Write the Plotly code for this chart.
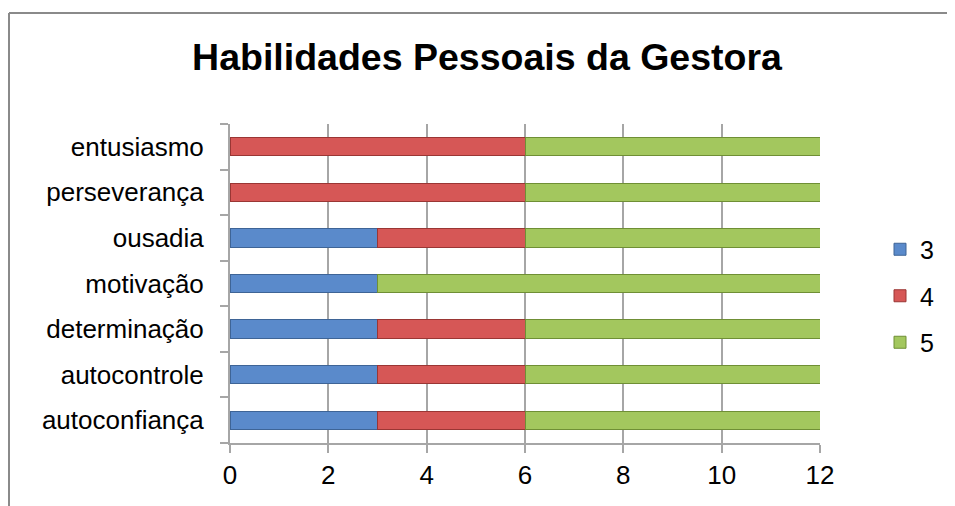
import plotly.graph_objects as go

## data (bottom to top)
categorias = ["autoconfiança", "autocontrole", "determinação", "motivação",
              "ousadia", "perseverança", "entusiasmo"]
nota_3 = [3, 3, 3, 3, 3, 0, 0]
nota_4 = [3, 3, 3, 0, 3, 6, 6]
nota_5 = [6, 6, 6, 9, 6, 6, 6]
x_ticks = [0, 2, 4, 6, 8, 10, 12]

## the page body adds an 8px margin, so work in window pixels minus 8
OFF = 8
W, H = 955 - OFF, 506 - OFF
ML, MR, MT, MB = 230 - OFF, 135, 124 - OFF, 63

series = [
    ("3", nota_3, "#5A8ACB", "#3E6496"),
    ("4", nota_4, "#D65756", "#9A3634"),
    ("5", nota_5, "#A3C75E", "#6F8F35"),
]

fig = go.Figure()
for name, vals, color, edge in series:
    fig.add_trace(go.Bar(
        y=categorias, x=vals, name=name, orientation="h",
        marker=dict(color=color, line=dict(color=edge, width=1)),
        width=0.4, legendgroup="g" + name,
    ))

## window pixel -> paper coords
pw = W - ML - MR
ph = H - MT - MB
def px(x):
    return (x - OFF - ML) / pw
def py(y):
    return (H - MB - (y - OFF)) / ph

## outer frame (top and left edges only are visible)
fig.add_shape(type="line", xref="paper", yref="paper",
              x0=px(9), y0=py(13), x1=px(960), y1=py(13),
              line=dict(color="#8a8a8a", width=2))
fig.add_shape(type="line", xref="paper", yref="paper",
              x0=px(9), y0=py(13), x1=px(9), y1=py(510),
              line=dict(color="#8a8a8a", width=2))

fig.update_layout(
    width=W, height=H,
    barmode="stack",
    margin=dict(l=ML, r=MR, t=MT, b=MB),
    paper_bgcolor="white", plot_bgcolor="white",
    font=dict(family="Liberation Sans, Arial, sans-serif", size=26, color="black"),
    title=dict(text="<b>Habilidades Pessoais da Gestora</b>",
               font=dict(size=37.5, color="black"),
               x=(487 - OFF) / W, xanchor="center", xref="container",
               y=1 - (57 - OFF) / H, yanchor="middle", yref="container"),
    legend=dict(x=px(880), xanchor="left", y=py(296), yanchor="middle",
                traceorder="grouped", tracegroupgap=11,
                font=dict(size=25), bgcolor="rgba(0,0,0,0)"),
)

fig.update_xaxes(range=[0, 12], tickvals=x_ticks, showgrid=True,
                 gridcolor="#a6a6a6", gridwidth=2,
                 showline=True, linecolor="#a6a6a6", linewidth=2,
                 ticks="outside", ticklen=8, tickcolor="#a6a6a6", tickwidth=2,
                 zeroline=False)
fig.update_yaxes(categoryorder="array", categoryarray=categorias,
                 showline=True, linecolor="#a6a6a6", linewidth=2,
                 ticks="outside", tickson="boundaries", ticklen=8,
                 tickcolor="#a6a6a6", tickwidth=2, ticklabelstandoff=19,
                 showgrid=False)

fig.write_html("out.html")
